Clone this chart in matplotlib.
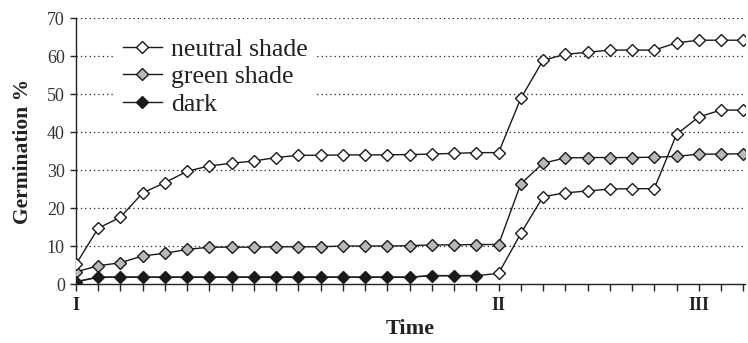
import numpy as np
import matplotlib
matplotlib.use("Agg")
from matplotlib import pyplot as plt

# germination %, one value per time step
neutral_shade = [5.2, 14.7, 17.6, 24.0, 26.7, 29.7, 31.1, 31.8, 32.4, 33.3,
                 33.9, 33.9, 34.0, 34.0, 34.0, 34.1, 34.2, 34.4, 34.6, 34.6,
                 48.9, 58.9, 60.5, 61.0, 61.6, 61.6, 61.6, 63.5, 64.2, 64.2, 64.2]
green_shade = [3.2, 4.8, 5.6, 7.4, 8.1, 9.1, 9.7, 9.7, 9.7, 9.8,
               9.8, 9.8, 10.0, 10.0, 10.0, 10.1, 10.3, 10.3, 10.4, 10.4,
               26.4, 31.8, 33.2, 33.3, 33.3, 33.3, 33.4, 33.6, 34.2, 34.2, 34.3]
dark = [0.6, 1.8, 1.8, 1.8, 1.8, 1.8, 1.8, 1.8, 1.8, 1.8,
        1.8, 1.8, 1.8, 1.8, 1.8, 1.8, 2.2, 2.2, 2.2]
# dark seeds moved to neutral shade at II
dark_to_neutral = [2.8, 13.3, 23.0, 24.0, 24.5, 25.0, 25.1, 25.1, 39.4, 44.0, 45.8, 45.8]

time_labels = {0: "I", 19: "II", 28: "III"}
y_ticks = [0, 10, 20, 30, 40, 50, 60, 70]

serif = ["Liberation Serif", "DejaVu Serif"]
plt.rcParams['font.family'] = serif

fig = plt.figure(figsize=(7.48, 3.43), dpi=100)
ax = fig.add_axes([0.1016, 0.172, 0.895, 0.775])

n = len(neutral_shade)
x = np.arange(n)
x_dark = np.arange(len(dark))
x_moved = np.arange(len(dark), len(dark) + len(dark_to_neutral))

mk = dict(marker="D", markersize=6.3, markeredgecolor="#1a1a1a", markeredgewidth=1.0)

# dark line continues into the transferred series
ax.plot(np.concatenate([x_dark, x_moved]), dark + dark_to_neutral,
        color="#1a1a1a", lw=1.0, zorder=3)
ax.plot(x_moved, dark_to_neutral, ls="none", markerfacecolor="white", zorder=4, **mk)
ax.plot(x, green_shade, color="#1a1a1a", lw=1.0, markerfacecolor="#b8b8b8",
        label="green shade", zorder=4, **mk)
ax.plot(x, neutral_shade, color="#1a1a1a", lw=1.0, markerfacecolor="white",
        label="neutral shade", zorder=5, **mk)
ax.plot(x_dark, dark, color="#1a1a1a", lw=1.0, markerfacecolor="#1a1a1a",
        label="dark", zorder=4, **mk)

ax.set_xlim(0, n - 1 + 0.1)
ax.set_ylim(0, 70)
ax.set_yticks(y_ticks)
ax.set_yticklabels([str(v) for v in y_ticks], fontsize=13, color="#333333")
ax.set_xticks(x)
ax.set_xticklabels([time_labels.get(i, "") for i in x], fontsize=13, fontweight="bold",
                   color="#222222")

for v in y_ticks[1:]:
    ax.axhline(v, color="#222222", lw=0.9, ls=(0, (1, 2.5)), zorder=1)

for s in ["top", "right"]:
    ax.spines[s].set_visible(False)
ax.spines["left"].set_color("#222222")
ax.spines["bottom"].set_color("#222222")
ax.spines["left"].set_linewidth(1.0)
ax.spines["bottom"].set_linewidth(1.0)
ax.tick_params(axis="x", direction="out", length=5, width=1.0, pad=4, color="#222222")
ax.tick_params(axis="y", direction="out", length=4, width=1.0, pad=4, color="#222222")

ax.set_ylabel("Germination %", fontsize=15.5, fontweight="bold", labelpad=10, color="#222222")
ax.set_xlabel("Time", fontsize=16, fontweight="bold", labelpad=4, color="#222222")

handles, labels = ax.get_legend_handles_labels()
order = [labels.index("neutral shade"), labels.index("green shade"), labels.index("dark")]
leg = ax.legend([handles[i] for i in order], [labels[i] for i in order],
                loc="upper left", bbox_to_anchor=(0.058, 0.955), fontsize=18.5,
                frameon=True, facecolor="white", edgecolor="none", framealpha=1,
                fancybox=False, handlelength=1.55, handletextpad=0.35,
                labelspacing=0.18, borderpad=0.3, borderaxespad=0)
leg.set_zorder(6)
for t in leg.get_texts():
    t.set_color("#222222")

fig.savefig("out.png", dpi=100)
